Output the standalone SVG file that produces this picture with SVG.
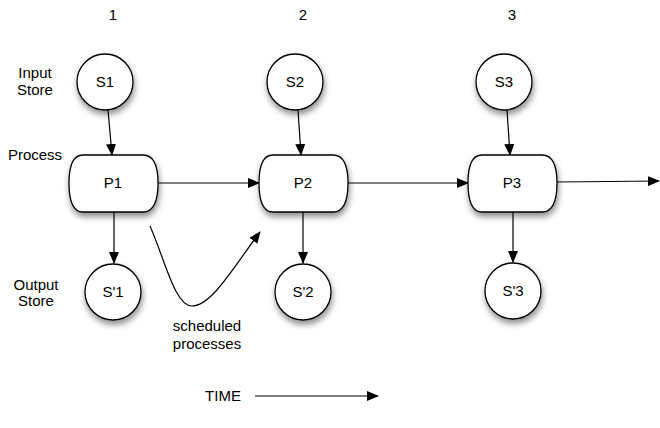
<svg xmlns="http://www.w3.org/2000/svg" width="660" height="428" viewBox="0 0 660 428">
<style>
text{font-family:"Liberation Sans",Arial,sans-serif;fill:#000}
.lbl{font-size:15px}
.nt{font-size:15px;text-anchor:middle}
.shape{fill:#fff;stroke:#000;stroke-width:1.3;filter:url(#sh)}
.con{fill:none;stroke:#000;stroke-width:1.2;marker-end:url(#ah)}
</style>
<defs>
<filter id="sh" x="-30%" y="-30%" width="170%" height="170%">
<feDropShadow dx="1" dy="4" stdDeviation="3" flood-color="#000" flood-opacity="0.45"/>
</filter>
<marker id="ah" markerWidth="12" markerHeight="10" refX="11" refY="5" orient="auto" markerUnits="userSpaceOnUse">
<path d="M0,0 L12,5 L0,10 Z" fill="#000"/>
</marker>
</defs>
<g id="labels">
<text class="lbl" x="113" y="20" text-anchor="middle">1</text>
<text class="lbl" x="303" y="20" text-anchor="middle">2</text>
<text class="lbl" x="512" y="20" text-anchor="middle">3</text>
<text class="lbl" x="35" y="78" text-anchor="middle">Input</text>
<text class="lbl" x="35" y="95" text-anchor="middle">Store</text>
<text class="lbl" x="35" y="160" text-anchor="middle">Process</text>
<text class="lbl" x="36" y="290" text-anchor="middle">Output</text>
<text class="lbl" x="36" y="306" text-anchor="middle">Store</text>
<text class="lbl" x="207" y="331" text-anchor="middle">scheduled</text>
<text class="lbl" x="207" y="349" text-anchor="middle">processes</text>
<text class="lbl" x="223" y="401" text-anchor="middle">TIME</text>
</g>
<g id="connectors">
<line class="con" x1="108" y1="110" x2="112" y2="155"/>
<line class="con" x1="298" y1="110" x2="301" y2="155"/>
<line class="con" x1="507" y1="110" x2="510" y2="155"/>
<line class="con" x1="114" y1="212" x2="114" y2="263"/>
<line class="con" x1="303" y1="212" x2="303" y2="263"/>
<line class="con" x1="513" y1="212" x2="513" y2="262"/>
<line class="con" x1="157" y1="183" x2="259" y2="183"/>
<line class="con" x1="347" y1="183" x2="468" y2="183"/>
<line class="con" x1="557" y1="182" x2="659" y2="181"/>
<path class="con" d="M150,226 C165,260 175,306 192,306 C212,306 235,265 260,232"/>
<line class="con" x1="255" y1="396" x2="378" y2="396"/>
</g>
<g id="S1"><circle class="shape" cx="105" cy="82" r="28"/><text class="nt" x="105" y="87">S1</text></g>
<g id="S2"><circle class="shape" cx="295" cy="82" r="28"/><text class="nt" x="295" y="87">S2</text></g>
<g id="S3"><circle class="shape" cx="504" cy="82" r="28"/><text class="nt" x="504" y="87">S3</text></g>
<g id="P1"><path class="shape" d="M83,155 H143 Q158,155 158,183 Q158,212 143,212 H83 Q69,212 69,183 Q69,155 83,155 Z"/><text class="nt" x="113" y="188">P1</text></g>
<g id="P2"><path class="shape" d="M273,155 H333 Q348,155 348,183 Q348,212 333,212 H273 Q259,212 259,183 Q259,155 273,155 Z"/><text class="nt" x="303" y="188">P2</text></g>
<g id="P3"><path class="shape" d="M482,155 H542 Q557,155 557,183 Q557,212 542,212 H482 Q468,212 468,183 Q468,155 482,155 Z"/><text class="nt" x="512" y="188">P3</text></g>
<g id="S_1"><circle class="shape" cx="113" cy="292" r="28"/><text class="nt" x="113" y="297">S'1</text></g>
<g id="S_2"><circle class="shape" cx="303" cy="292" r="28"/><text class="nt" x="303" y="297">S'2</text></g>
<g id="S_3"><circle class="shape" cx="513" cy="291" r="28"/><text class="nt" x="513" y="296">S'3</text></g>
</svg>
